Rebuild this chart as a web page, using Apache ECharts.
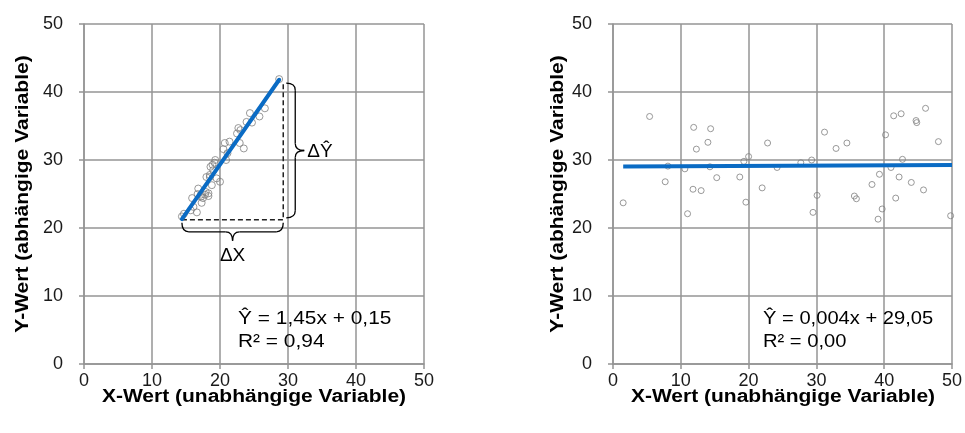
<!DOCTYPE html>
<html>
<head>
<meta charset="utf-8">
<script src="https://cdn.jsdelivr.net/npm/echarts@6/dist/echarts.min.js"></script>
<style>
  html, body { margin: 0; padding: 0; background: #fff; }
  #main { width: 965px; height: 433px; }
</style>
</head>
<body>
<div id="main"></div>
<script>
// Achsen
const axisTicks = [0, 10, 20, 30, 40, 50];
const xTitle = "X-Wert (unabhängige Variable)";
const yTitle = "Y-Wert (abhängige Variable)";

// linkes Diagramm: starker Zusammenhang
const leftX = [14.4, 14.7, 16.6, 15.7, 16.1, 15.9, 16.7, 16.8, 17.3, 17.5, 17.2, 18.3, 17.9, 18.0, 18.5,
  18.8, 19.0, 18.6, 19.3, 19.5, 20.0, 20.5, 20.7, 21.4, 21.1, 20.9, 22.5, 22.7, 23.0, 22.9, 23.5, 23.9,
  24.4, 24.7, 25.8, 26.6, 28.7, 18.3, 17.8, 17.2, 18.5, 19.2, 18.9];
const leftY = [21.7, 22.1, 22.3, 22.6, 23.1, 24.4, 25.0, 25.8, 23.7, 24.4, 24.9, 24.7, 25.3, 27.5, 27.8,
  26.3, 28.5, 29.0, 30.0, 27.3, 26.8, 31.6, 32.5, 32.7, 31.0, 30.0, 33.9, 34.7, 34.4, 32.5, 31.7, 35.6,
  36.9, 35.5, 36.4, 37.6, 41.9, 25.1, 24.9, 24.6, 27.5, 29.6, 29.3];
const leftFitX = [14.4, 28.7];
const leftFitY = [21.3, 41.8];
const dashX = [14.4, 29.3, 29.3];
const dashY = [21.2, 21.2, 41.3];
const leftEq = ["Ŷ = 1,45x + 0,15", "R² = 0,94"];

// rechtes Diagramm: kein Zusammenhang
const rightX = [5.4, 11.9, 14.4, 14.0, 12.3, 22.8, 20.0, 19.3, 8.1, 10.6, 14.3, 24.2, 7.7, 15.3, 18.7,
  11.8, 13.0, 22.0, 1.5, 19.6, 11.0, 27.7, 29.3, 31.2, 32.9, 34.5, 30.1, 29.5, 35.6, 35.9, 38.2, 39.3,
  39.7, 39.1, 40.2, 41.4, 42.5, 44.7, 44.8, 46.1, 48.0, 42.7, 41.0, 42.2, 44.0, 45.8, 41.7, 49.8];
const rightY = [36.4, 34.8, 34.6, 32.6, 31.6, 32.5, 30.5, 29.8, 29.1, 28.7, 29.0, 28.9, 26.8, 27.4, 27.5,
  25.7, 25.5, 25.9, 23.7, 23.8, 22.1, 29.6, 30.0, 34.1, 31.7, 32.5, 24.8, 22.3, 24.7, 24.3, 26.4, 27.9,
  22.8, 21.3, 33.7, 36.5, 36.8, 35.8, 35.5, 37.6, 32.7, 30.1, 28.9, 27.5, 26.7, 25.6, 24.4, 21.8];
const rightFitX = [1.5, 50];
const rightFitY = [29.05, 29.25];
const rightEq = ["Ŷ = 0,004x + 29,05", "R² = 0,00"];

const font = "'Liberation Sans', Arial, sans-serif";
const gridColor = "#949494";
const blue = "#0a6bc4";
const plots = [{ left: 84, top: 24, size: 340 }, { left: 613, top: 24, size: 340 }];

const chart = echarts.init(document.getElementById("main"));

function pairs(xs, ys) {
  return xs.map((x, i) => [x, ys[i]]);
}

function axisFor(i, labelMargin) {
  return {
    gridIndex: i,
    type: "value",
    min: axisTicks[0],
    max: axisTicks[axisTicks.length - 1],
    interval: axisTicks[1] - axisTicks[0],
    axisLine: { show: true, onZero: false, lineStyle: { color: gridColor, width: 1.5 } },
    axisTick: { show: true, length: 5, lineStyle: { color: gridColor, width: 1.5 } },
    axisLabel: { fontFamily: font, fontSize: 18, color: "#1a1a1a", margin: labelMargin },
    splitLine: { show: true, lineStyle: { color: gridColor, width: 1.5 } },
  };
}

const pointStyle = { color: "rgba(255,255,255,0)", borderColor: "#7f7f7f", borderWidth: 1 };

chart.setOption({
  animation: false,
  textStyle: { fontFamily: font },
  grid: plots.map((p) => ({ left: p.left, top: p.top, width: p.size, height: p.size })),
  xAxis: [axisFor(0, 8), axisFor(1, 8)],
  yAxis: [axisFor(0, 21), axisFor(1, 21)],
  series: [
    {
      type: "line",
      xAxisIndex: 0,
      yAxisIndex: 0,
      data: pairs(dashX, dashY),
      symbol: "none",
      lineStyle: { color: "#222", width: 1.5, type: [5, 3] },
      z: 1,
    },
    {
      type: "scatter",
      xAxisIndex: 0,
      yAxisIndex: 0,
      data: pairs(leftX, leftY),
      symbolSize: 7,
      itemStyle: pointStyle,
      z: 2,
    },
    {
      type: "line",
      xAxisIndex: 0,
      yAxisIndex: 0,
      data: pairs(leftFitX, leftFitY),
      symbol: "none",
      lineStyle: { color: blue, width: 4, cap: "round" },
      z: 3,
    },
    {
      type: "scatter",
      xAxisIndex: 1,
      yAxisIndex: 1,
      data: pairs(rightX, rightY),
      symbolSize: 6,
      itemStyle: pointStyle,
      z: 2,
    },
    {
      type: "line",
      xAxisIndex: 1,
      yAxisIndex: 1,
      data: pairs(rightFitX, rightFitY),
      symbol: "none",
      lineStyle: { color: blue, width: 4 },
      z: 3,
    },
  ],
});

const braceStyle = { stroke: "#000", lineWidth: 1.3, fill: null };

function seg(x1, y1, x2, y2) {
  return { type: "line", z: 10, shape: { x1, y1, x2, y2 }, style: braceStyle };
}
function curve(x1, y1, cx, cy, x2, y2) {
  return { type: "bezierCurve", z: 10, shape: { x1, y1, cpx1: cx, cpy1: cy, x2, y2 }, style: braceStyle };
}

// geschweifte Klammer nach unten
function braceH(xa, xb, y0, h, r) {
  const xm = (xa + xb) / 2;
  const ym = y0 + h;
  return [
    curve(xa, y0, xa, ym, xa + r, ym),
    seg(xa + r, ym, xm - r, ym),
    curve(xm - r, ym, xm, ym, xm, ym + h),
    curve(xm, ym + h, xm, ym, xm + r, ym),
    seg(xm + r, ym, xb - r, ym),
    curve(xb - r, ym, xb, ym, xb, y0),
  ];
}
// geschweifte Klammer nach rechts
function braceV(ya, yb, x0, h, r) {
  const ym = (ya + yb) / 2;
  const xm = x0 + h;
  return [
    curve(x0, ya, xm, ya, xm, ya + r),
    seg(xm, ya + r, xm, ym - r),
    curve(xm, ym - r, xm, ym, xm + h, ym),
    curve(xm + h, ym, xm, ym, xm, ym + r),
    seg(xm, ym + r, xm, yb - r),
    curve(xm, yb - r, xm, yb, x0, yb),
  ];
}

function label(text, x, y, opts) {
  return {
    type: "text",
    z: 10,
    x: x,
    y: y,
    rotation: opts.rotation || 0,
    scaleX: opts.scaleX || 1,
    style: {
      text: text,
      x: 0,
      y: 0,
      fontFamily: font,
      fontSize: opts.fontSize || 19,
      fontWeight: opts.bold ? "bold" : "normal",
      fill: "#000",
      align: opts.align || "left",
      verticalAlign: opts.verticalAlign || "middle",
      lineHeight: opts.lineHeight,
    },
  };
}

const pA = chart.convertToPixel({ gridIndex: 0 }, [dashX[0], dashY[0]]);
const pB = chart.convertToPixel({ gridIndex: 0 }, [dashX[1], dashY[1]]);
const pC = chart.convertToPixel({ gridIndex: 0 }, [dashX[2], dashY[2]]);

const titles = [];
plots.forEach((p, i) => {
  titles.push(label(xTitle, p.left + p.size / 2, 397, { bold: true, fontSize: 17.5, scaleX: 1.2, align: "center" }));
  titles.push(label(yTitle, p.left - (i === 0 ? 61 : 55), p.top + p.size / 2, { bold: true, fontSize: 17.5, scaleX: 1.2, align: "center", rotation: Math.PI / 2 }));
});

chart.setOption({
  graphic: [].concat(
    braceH(pA[0], pB[0], pA[1] + 3, 9, 7),
    braceV(pC[1], pB[1] - 2, pB[0] + 3, 9, 7),
    [
      label("ΔX", (pA[0] + pB[0]) / 2, pA[1] + 36, { align: "center" }),
      label("ΔŶ", pB[0] + 24, (pB[1] + pC[1]) / 2, {}),
      label(leftEq.join("\n"), 238, 307, { verticalAlign: "top", lineHeight: 23, scaleX: 1.1 }),
      label(rightEq.join("\n"), 763, 307, { verticalAlign: "top", lineHeight: 23, scaleX: 1.06 }),
    ],
    titles
  ),
});
</script>
</body>
</html>
